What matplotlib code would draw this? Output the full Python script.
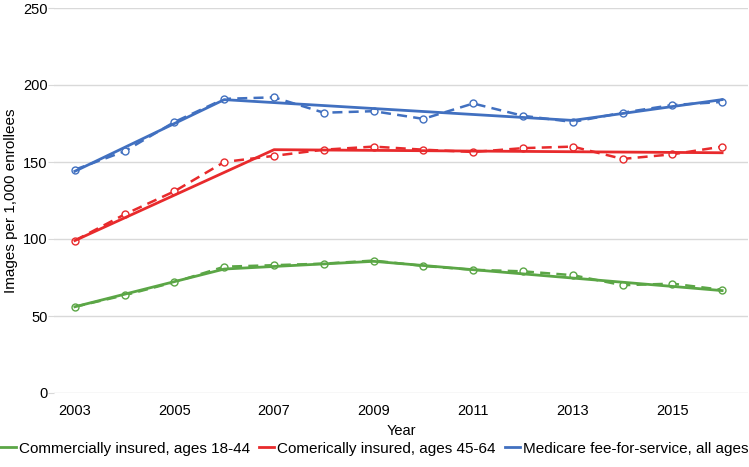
import matplotlib.pyplot as plt
from matplotlib.lines import Line2D

plt.rcParams["font.family"] = ["Liberation Sans", "DejaVu Sans"]

years = list(range(2003, 2017))

# observed rates (dashed, open markers)
young_obs = [56, 63.5, 72, 82, 83, 84, 86, 82.5, 80, 79, 76.5, 70, 71, 67]
older_obs = [99, 116, 131, 150, 154, 158, 160, 158, 156.5, 159, 160, 152, 155, 160]
medicare_obs = [145, 157, 176, 191, 192, 182, 183, 178, 188, 180, 176, 182, 187, 189]

# fitted joinpoint trends (solid)
young_fit_years = [2003, 2006, 2009, 2016]
young_fit = [56, 80.5, 85.5, 66.5]
older_fit_years = [2003, 2007, 2016]
older_fit = [99, 158, 156]
medicare_fit_years = [2003, 2006, 2013, 2016]
medicare_fit = [144, 190.5, 177, 190.5]

labels = [
    "Commercially insured, ages 18-44",
    "Comerically insured, ages 45-64",
    "Medicare fee-for-service, all ages",
]
colors = ["#5BA646", "#E82A2C", "#4170C0"]

fig = plt.figure(figsize=(7.49, 4.67), dpi=100)
ax = fig.add_axes([54 / 749, 1 - 393 / 467, 694 / 749, 385 / 467])

series = [
    (young_obs, young_fit_years, young_fit),
    (older_obs, older_fit_years, older_fit),
    (medicare_obs, medicare_fit_years, medicare_fit),
]
for (obs, fit_x, fit_y), color in zip(series, colors):
    ax.plot(years, obs, linestyle=(0, (4, 2.5)), color=color, linewidth=1.8,
            marker="o", markersize=5, markerfacecolor="white",
            markeredgecolor=color, markeredgewidth=1.0, zorder=3)
    ax.plot(fit_x, fit_y, color=color, linewidth=2.0, zorder=4)

ax.set_xlim(2002.58, 2016.52)
ax.set_ylim(0, 250)
ax.set_yticks(range(0, 251, 50))
ax.set_xticks(range(2003, 2016, 2))
ax.grid(axis="y", color="#d9d9d9", linewidth=1)
ax.set_axisbelow(True)
for side in ["top", "right", "left", "bottom"]:
    ax.spines[side].set_visible(False)
ax.tick_params(axis="y", length=4, color="#d9d9d9", labelsize=10.5, pad=0.5)
ax.tick_params(axis="x", length=0, labelsize=10.5, pad=8)

ax.set_ylabel("Images per 1,000 enrollees", fontsize=11)
ax.yaxis.set_label_coords(-0.052, 0.5)
ax.set_xlabel("Year", fontsize=10.5, labelpad=4)

handles = [Line2D([0], [0], color=c, linewidth=2.0) for c in colors]
fig.legend(handles, labels, loc="lower center", bbox_to_anchor=(0.5, -0.005),
           ncol=3, frameon=False, fontsize=11, handlelength=1.0,
           handletextpad=0.2, columnspacing=0.6)

fig.savefig("out.png", dpi=100)
